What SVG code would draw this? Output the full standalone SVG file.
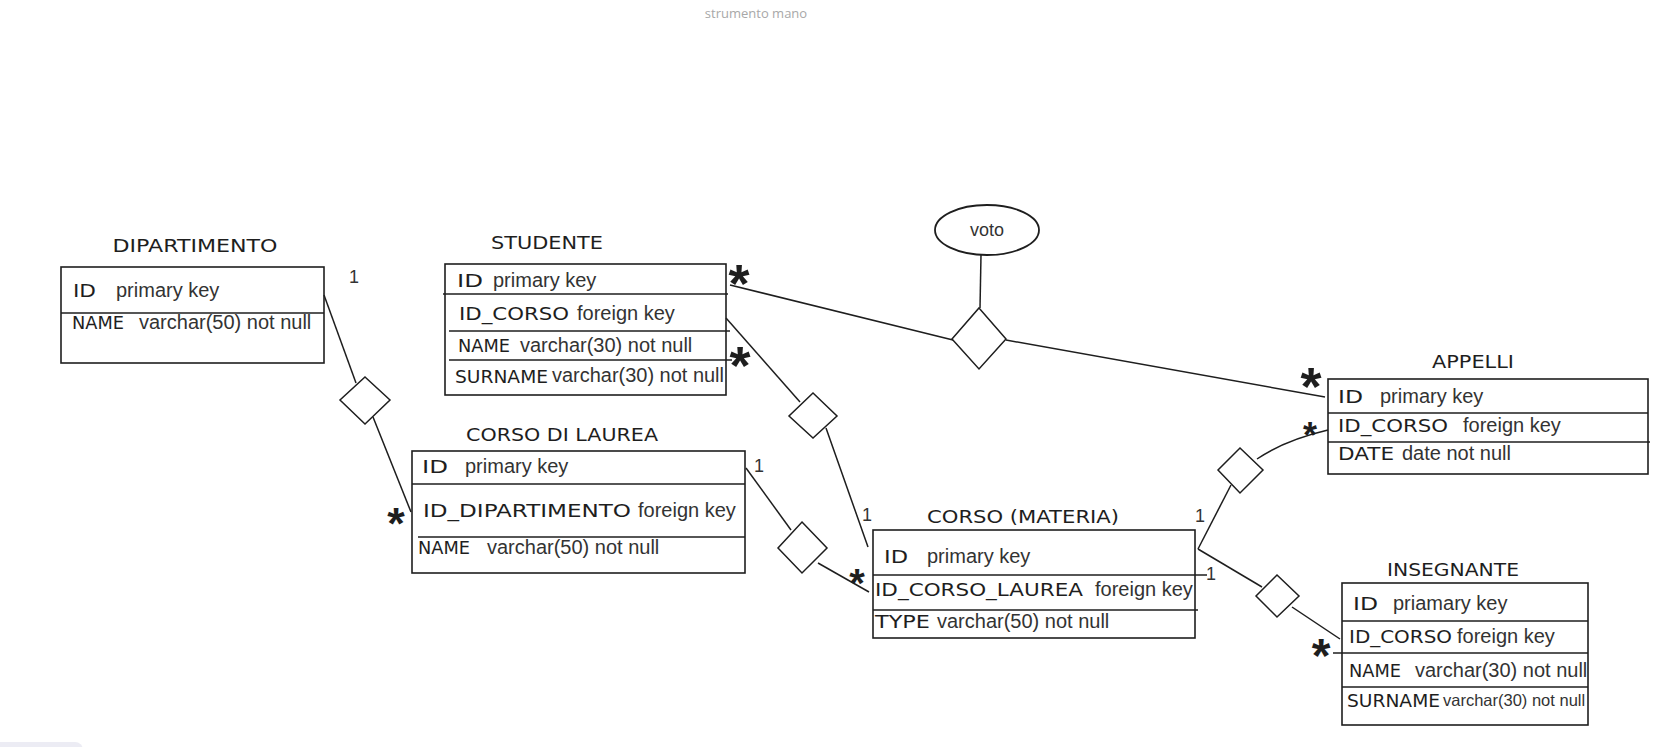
<svg xmlns="http://www.w3.org/2000/svg" width="1662" height="747" viewBox="0 0 1662 747">
<style>
.box{fill:none;stroke:#1e1e1e;stroke-width:1.6}
.div{stroke:#1e1e1e;stroke-width:1.4}
.ln{fill:none;stroke:#1e1e1e;stroke-width:1.5}
.dia{fill:#fff;stroke:#1e1e1e;stroke-width:1.5}
.hw{font-family:"DejaVu Sans",sans-serif;font-size:17px;fill:#1e1e1e}
.tt{font-family:"DejaVu Sans",sans-serif;font-size:17px;fill:#1e1e1e;text-anchor:middle}
.rg{font-family:"Liberation Sans",Arial,sans-serif;font-size:20px;fill:#333}
.sm{font-size:16.5px}
.num{font-family:"Liberation Sans",Arial,sans-serif;font-size:18px;fill:#333}
.st{font-family:"Liberation Sans",Arial,sans-serif;font-weight:bold;fill:#1e1e1e;text-anchor:middle}
.note{font-family:"Open Sans",sans-serif;font-size:13px;fill:#a8a8a8;text-anchor:middle}
</style>
<rect width="1662" height="747" fill="#fff"/>
<text class="note" x="756" y="18">strumento mano</text>
<rect x="-10" y="742" width="93" height="20" rx="8" fill="#ececf4"/>

<g id="connectors">
  <line class="ln" x1="324" y1="295" x2="356" y2="383"/>
  <line class="ln" x1="373" y1="417" x2="411" y2="512"/>
  <line class="ln" x1="730" y1="285" x2="953" y2="340"/>
  <line class="ln" x1="1006" y1="340" x2="1325" y2="397"/>
  <line class="ln" x1="981" y1="255" x2="980" y2="308"/>
  <line class="ln" x1="726" y1="318" x2="800" y2="402"/>
  <line class="ln" x1="826" y1="428" x2="868" y2="547"/>
  <line class="ln" x1="746" y1="468" x2="791" y2="530"/>
  <line class="ln" x1="818" y1="563" x2="869" y2="592"/>
  <line class="ln" x1="1198" y1="549" x2="1231" y2="485"/>
  <path class="ln" d="M1257,459 Q1285,440 1328,430"/>
  <line class="ln" x1="1198" y1="549" x2="1262" y2="587"/>
  <line class="ln" x1="1292" y1="607" x2="1340" y2="639"/>
  <polygon class="dia" points="365,377 390,400 365,424 340,400"/>
  <polygon class="dia" points="979,308 1006,339 979,369 952,339"/>
  <polygon class="dia" points="813,393 837,416 813,438 789,416"/>
  <polygon class="dia" points="802,522 827,548 802,573 778,548"/>
  <polygon class="dia" points="1240,448 1263,470 1240,493 1218,470"/>
  <polygon class="dia" points="1277,575 1299,596 1277,617 1256,596"/>
  <text class="num" x="349" y="283">1</text>
  <text class="num" x="754" y="472">1</text>
  <text class="num" x="862" y="521">1</text>
  <text class="num" x="1195" y="522">1</text>
  <text class="num" x="1206" y="580">1</text>
  <text class="st" font-size="54" x="739" y="302">*</text>
  <text class="st" font-size="54" x="740" y="384">*</text>
  <text class="st" font-size="45" x="396" y="539">*</text>
  <text class="st" font-size="40" x="857" y="597">*</text>
  <text class="st" font-size="54" x="1311" y="405">*</text>
  <text class="st" font-size="36" x="1310" y="448">*</text>
  <text class="st" font-size="48" x="1321" y="672">*</text>
</g>

<g id="voto">
  <ellipse cx="987" cy="230" rx="52" ry="25" fill="#fff" stroke="#1e1e1e" stroke-width="1.8"/>
  <text class="num" x="987" y="236" text-anchor="middle">voto</text>
</g>

<g id="dipartimento">
  <text class="tt" x="195" y="252" textLength="165" lengthAdjust="spacingAndGlyphs">DIPARTIMENTO</text>
  <rect class="box" x="61" y="267" width="263" height="96"/>
  <line class="div" x1="61" y1="313" x2="324" y2="313"/>
  <text class="hw" x="73" y="297" textLength="23" lengthAdjust="spacingAndGlyphs">ID</text>
  <text class="rg" x="116" y="297">primary key</text>
  <text class="hw" x="72" y="329" textLength="52" lengthAdjust="spacingAndGlyphs">NAME</text>
  <text class="rg" x="139" y="329">varchar(50) not null</text>
</g>

<g id="studente">
  <text class="tt" x="547" y="249" textLength="112" lengthAdjust="spacingAndGlyphs">STUDENTE</text>
  <rect class="box" x="445" y="264" width="281" height="131"/>
  <line class="div" x1="443" y1="294" x2="728" y2="294"/>
  <line class="div" x1="449" y1="331" x2="730" y2="331"/>
  <line class="div" x1="449" y1="360" x2="732" y2="360"/>
  <text class="hw" x="457" y="287" textLength="26" lengthAdjust="spacingAndGlyphs">ID</text>
  <text class="rg" x="493" y="287">primary key</text>
  <text class="hw" x="459" y="320" textLength="110" lengthAdjust="spacingAndGlyphs">ID_CORSO</text>
  <text class="rg" x="577" y="320">foreign key</text>
  <text class="hw" x="458" y="352" textLength="52" lengthAdjust="spacingAndGlyphs">NAME</text>
  <text class="rg" x="520" y="352">varchar(30) not null</text>
  <text class="hw" x="455" y="383" textLength="93" lengthAdjust="spacingAndGlyphs">SURNAME</text>
  <text class="rg" x="552" y="382" textLength="172" lengthAdjust="spacingAndGlyphs">varchar(30) not null</text>
</g>

<g id="corso-di-laurea">
  <text class="tt" x="562" y="441" textLength="192" lengthAdjust="spacingAndGlyphs">CORSO DI LAUREA</text>
  <rect class="box" x="412" y="451" width="333" height="122"/>
  <line class="div" x1="412" y1="484" x2="745" y2="484"/>
  <line class="div" x1="418" y1="537" x2="745" y2="537"/>
  <text class="hw" x="422" y="473" textLength="26" lengthAdjust="spacingAndGlyphs">ID</text>
  <text class="rg" x="465" y="473">primary key</text>
  <text class="hw" x="423" y="517" textLength="208" lengthAdjust="spacingAndGlyphs">ID_DIPARTIMENTO</text>
  <text class="rg" x="638" y="517">foreign key</text>
  <text class="hw" x="418" y="554" textLength="52" lengthAdjust="spacingAndGlyphs">NAME</text>
  <text class="rg" x="487" y="554">varchar(50) not null</text>
</g>

<g id="corso-materia">
  <text class="tt" x="1023" y="523" textLength="192" lengthAdjust="spacingAndGlyphs">CORSO (MATERIA)</text>
  <rect class="box" x="873" y="530" width="322" height="108"/>
  <line class="div" x1="873" y1="575" x2="1207" y2="575"/>
  <line class="div" x1="873" y1="610" x2="1198" y2="610"/>
  <text class="hw" x="884" y="563" textLength="24" lengthAdjust="spacingAndGlyphs">ID</text>
  <text class="rg" x="927" y="563">primary key</text>
  <text class="hw" x="875" y="596" textLength="208" lengthAdjust="spacingAndGlyphs">ID_CORSO_LAUREA</text>
  <text class="rg" x="1095" y="596">foreign key</text>
  <text class="hw" x="875" y="628" textLength="55" lengthAdjust="spacingAndGlyphs">TYPE</text>
  <text class="rg" x="937" y="628">varchar(50) not null</text>
</g>

<g id="appelli">
  <text class="tt" x="1473" y="368" textLength="82" lengthAdjust="spacingAndGlyphs">APPELLI</text>
  <rect class="box" x="1328" y="379" width="320" height="95"/>
  <line class="div" x1="1328" y1="413" x2="1648" y2="413"/>
  <line class="div" x1="1328" y1="442" x2="1650" y2="442"/>
  <text class="hw" x="1338" y="403" textLength="25" lengthAdjust="spacingAndGlyphs">ID</text>
  <text class="rg" x="1380" y="403">primary key</text>
  <text class="hw" x="1338" y="432" textLength="110" lengthAdjust="spacingAndGlyphs">ID_CORSO</text>
  <text class="rg" x="1463" y="432">foreign key</text>
  <text class="hw" x="1338" y="460" textLength="56" lengthAdjust="spacingAndGlyphs">DATE</text>
  <text class="rg" x="1402" y="460">date not null</text>
</g>

<g id="insegnante">
  <text class="tt" x="1453" y="576" textLength="132" lengthAdjust="spacingAndGlyphs">INSEGNANTE</text>
  <rect class="box" x="1342" y="583" width="246" height="142"/>
  <line class="div" x1="1342" y1="621" x2="1588" y2="621"/>
  <line class="div" x1="1333" y1="653" x2="1588" y2="653"/>
  <line class="div" x1="1342" y1="687" x2="1588" y2="687"/>
  <text class="hw" x="1353" y="610" textLength="25" lengthAdjust="spacingAndGlyphs">ID</text>
  <text class="rg" x="1393" y="610">priamary key</text>
  <text class="hw" x="1349" y="643" textLength="103" lengthAdjust="spacingAndGlyphs">ID_CORSO</text>
  <text class="rg" x="1457" y="643">foreign key</text>
  <text class="hw" x="1349" y="677" textLength="52" lengthAdjust="spacingAndGlyphs">NAME</text>
  <text class="rg" x="1415" y="677">varchar(30) not null</text>
  <text class="hw" x="1347" y="707" textLength="93" lengthAdjust="spacingAndGlyphs">SURNAME</text>
  <text class="rg sm" x="1443" y="706">varchar(30) not null</text>
</g>
</svg>
